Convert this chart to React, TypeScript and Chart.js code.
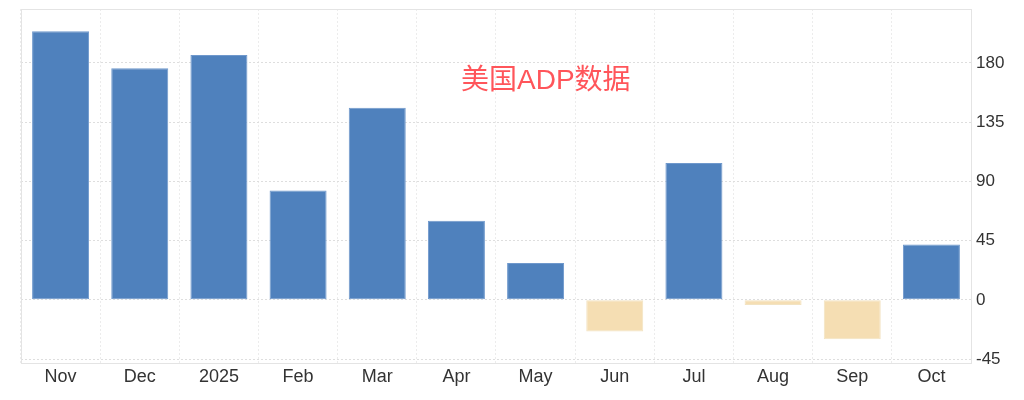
import { useEffect, useRef } from "react";
import { Chart, registerables } from "chart.js";

Chart.register(...registerables);

const months = ["Nov", "Dec", "2025", "Feb", "Mar", "Apr", "May", "Jun", "Jul", "Aug", "Sep", "Oct"];
const adpValues = [204, 176, 186, 83, 146, 60, 28, -24, 104, -4, -30, 42];
const yTickValues = [-45, 0, 45, 90, 135, 180];

const BLUE = "#4f81bd";
const TAN = "#f5deb3";

// contour léger de la zone de tracé
const frame = {
  id: "frame",
  beforeDatasetsDraw(chart: Chart) {
    const { ctx, chartArea } = chart;
    ctx.save();
    ctx.strokeStyle = "#e4e4e4";
    ctx.lineWidth = 1;
    ctx.strokeRect(chartArea.left + 0.5, chartArea.top + 0.5, chartArea.width, chartArea.height);
    ctx.restore();
  },
};

export default function App() {
  const canvasRef = useRef<HTMLCanvasElement>(null);
  const chartRef = useRef<Chart | null>(null);

  useEffect(() => {
    document.body.style.margin = "0";
    if (!canvasRef.current) return;
    if (chartRef.current) {
      chartRef.current.destroy();
      chartRef.current = null;
    }

    chartRef.current = new Chart(canvasRef.current, {
      type: "bar",
      data: {
        labels: months,
        datasets: [
          {
            label: "ADP",
            data: adpValues,
            backgroundColor: adpValues.map((v) => (v >= 0 ? BLUE : TAN)),
            borderColor: adpValues.map((v) => (v >= 0 ? "#6f98cc" : "#f2e3c2")),
            borderWidth: 1,
            borderSkipped: false,
            categoryPercentage: 1,
            barPercentage: 0.72,
          },
        ],
      },
      plugins: [frame],
      options: {
        animation: false,
        responsive: true,
        maintainAspectRatio: false,
        layout: { padding: { left: 21, top: 9, right: 0, bottom: 0 } },
        plugins: {
          legend: { display: false },
          tooltip: { enabled: false },
        },
        scales: {
          x: {
            grid: { color: "#ececec", drawTicks: false },
            border: { display: false, dash: [2, 2] },
            ticks: {
              color: "#333333",
              font: { family: "Liberation Sans", size: 18 },
              padding: 3,
              maxRotation: 0,
            },
            afterFit: (scale: any) => {
              scale.height = 37;
              scale.paddingLeft = 0;
              scale.paddingRight = 0;
            },
          },
          y: {
            position: "right",
            min: -48,
            max: 221,
            grid: { color: "#dedede", drawTicks: false },
            border: { display: false, dash: [2, 2] },
            afterBuildTicks: (scale: any) => {
              scale.ticks = [...yTickValues, 221].map((v) => ({ value: v }));
            },
            ticks: {
              color: "#333333",
              font: { family: "Liberation Sans", size: 17 },
              padding: 5,
              callback: (v: any) => (yTickValues.includes(Number(v)) ? String(v) : ""),
            },
            afterFit: (scale: any) => {
              scale.width = 53;
              scale.paddingTop = 0;
              scale.paddingBottom = 0;
            },
          },
        },
      },
    });

    return () => {
      chartRef.current?.destroy();
      chartRef.current = null;
    };
  }, []);

  return (
    <div style={{ width: 1024, height: 400, position: "relative", background: "#ffffff" }}>
      <canvas ref={canvasRef} />
      <div
        style={{
          position: "absolute",
          left: 461,
          top: 62,
          fontFamily: "'Liberation Sans', 'Noto Sans CJK SC', sans-serif",
          fontSize: 28,
          lineHeight: "36px",
          color: "#ff555a",
          pointerEvents: "none",
        }}
      >
        美国ADP数据
      </div>
    </div>
  );
}
